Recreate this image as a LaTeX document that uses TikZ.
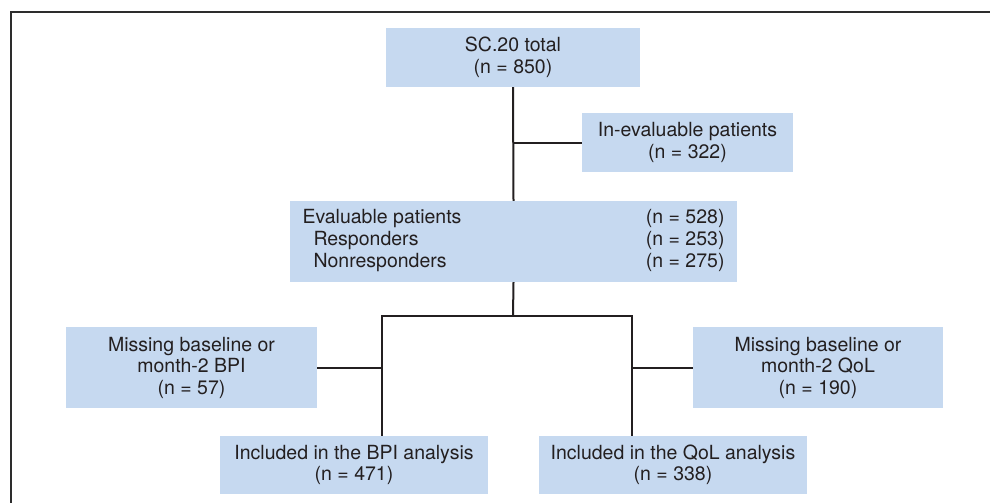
\documentclass[tikz,border=0pt]{standalone}
\usepackage{fontspec}
\setmainfont{TeX Gyre Heros}
\definecolor{boxfill}{RGB}{198,217,240}
\definecolor{linecol}{RGB}{35,31,32}
\definecolor{framecol}{RGB}{45,45,45}
\begin{document}
\begin{tikzpicture}[x=1pt,y=1pt,
  box/.style={fill=boxfill, draw=none, inner sep=0pt, align=center,
    font=\fontsize{19.5}{21.5}\selectfont, text=linecol},
  conn/.style={draw=linecol, line width=2pt}]
\useasboundingbox (0,0) rectangle (990,-503);
\draw[framecol, line width=1.8pt] (11,-503) -- (11,-12) -- (990,-12);

\node[box, minimum width=254pt, minimum height=59pt] (top) at (513,-57.5) {SC.20 total\\(n = 850)};
\node[box, minimum width=211pt, minimum height=59pt] (inev) at (687.5,-142.5) {In-evaluable patients\\(n = 322)};
\node[box, minimum width=447pt, minimum height=81pt] (eval) at (513.5,-241.5)
  {\fontsize{19.5}{22}\selectfont\begin{tabular*}{422pt}{@{}l@{\extracolsep{\fill}}r@{}}
   Evaluable patients & (n = 528)\\
   \hspace*{11pt}Responders & (n = 253)\\
   \hspace*{11pt}Nonresponders & (n = 275)
   \end{tabular*}};
\node[box, minimum width=251pt, minimum height=81pt] (missL) at (191.5,-367.5) {Missing baseline or\\month-2 BPI\\(n = 57)};
\node[box, minimum width=250pt, minimum height=81pt] (missR) at (818,-367.5) {Missing baseline or\\month-2 QoL\\(n = 190)};
\node[box, minimum width=268pt, minimum height=58pt] (inclL) at (354,-465) {Included in the BPI analysis\\(n = 471)};
\node[box, minimum width=268pt, minimum height=58pt] (inclR) at (673,-465) {Included in the QoL analysis\\(n = 338)};

\coordinate (j) at (513,-316);
\coordinate (jl) at (382,-316);
\coordinate (jr) at (632,-316);

\draw[conn] (top.south) -- (eval.north);
\draw[conn] (inev.west) -- (inev.west -| top.south);
\draw[conn] (eval.south) -- (j);
\draw[conn, line cap=rect] (jl) -- (jr);
\draw[conn] (jl) -- (jl |- inclL.north);
\draw[conn] (jr) -- (jr |- inclR.north);
\draw[conn] (missL.east) -- (missL.east -| jl);
\draw[conn] (missR.west) -- (missR.west -| jr);
\end{tikzpicture}
\end{document}
